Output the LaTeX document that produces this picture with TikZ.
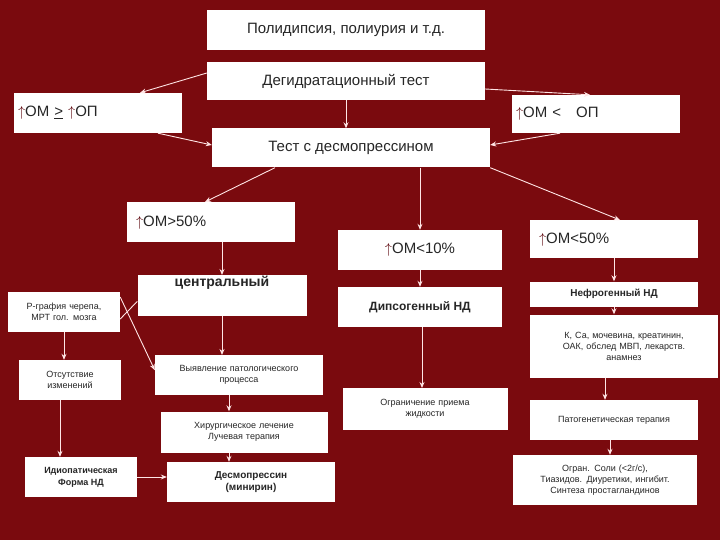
\documentclass[tikz,border=0pt]{standalone}
\usepackage{fontspec}
\setmainfont{Liberation Sans}
\usetikzlibrary{arrows.meta}
\definecolor{bgred}{HTML}{7A0A0E}
\definecolor{arr}{HTML}{5A0008}
\newcommand{\upar}{{\color{arr}$\uparrow$}}
\begin{document}
\begin{tikzpicture}[x=1pt,y=-1pt,
  box/.style={fill=white,draw=none,inner sep=1pt,align=center,text=black!85},
  big/.style={box,font=\fontsize{15}{18}\selectfont},
  sm/.style={box,font=\fontsize{9}{11}\selectfont},
  bsm/.style={box,font=\bfseries\fontsize{10}{12}\selectfont},
  con/.style={draw=white!90!red,line width=0.9pt,-{Stealth[length=6pt,width=5pt]}},
  lin/.style={draw=white!90!red,line width=0.9pt}]
\fill[bgred] (0,0) rectangle (720,540);
\useasboundingbox (0,0) rectangle (720,540);
\newcommand{\bx}[5]{\path[#1] (#2) rectangle (#3); \node[#1,fill=none,text width=0] (#4) at ($ (#2)!0.5!(#3) $) {};}
\node[big,minimum width=278,minimum height=40] (top) at (346,30) {Полидипсия, полиурия и т.д.};
\node[big,minimum width=278,minimum height=38] (deh) at (346,81) {Дегидратационный тест};
\node[big,minimum width=168,minimum height=40,text width=160,align=left] (omge) at (98,113) {\upar ОМ \underline{>} \upar ОП};
\node[big,minimum width=168,minimum height=38,text width=160,align=left] (omlt) at (596,114) {\upar ОМ <~~ ОП};
\node[big,minimum width=278,minimum height=39] (dt) at (351,148) {Тест с десмопрессином};
\node[big,minimum width=168,minimum height=40,text width=150,align=left,anchor=north] (o50) at (211,202) {\upar ОМ>50\%\\[8pt]};
\node[big,minimum width=164,minimum height=40,align=left] (o10) at (420,250) {\upar ОМ<10\%};
\node[big,minimum width=168,minimum height=38,text width=150,align=left,anchor=north] (o5) at (614,220) {\upar ОМ<50\%\\[6pt]};
\node[box,font=\bfseries\fontsize{14}{16}\selectfont,minimum width=169,minimum height=40,anchor=north] (cen) at (222,275) {центральный\\[12pt]};
\node[sm,minimum width=112,minimum height=40,text width=108] (rg) at (64,312) {Р-графия черепа,\\ МРТ гол. мозга};
\node[box,font=\bfseries\fontsize{12}{14}\selectfont,minimum width=164,minimum height=40] (dip) at (420,307) {Дипсогенный НД};
\node[bsm,minimum width=168,minimum height=25] (nef) at (614,294) {Нефрогенный НД};
\node[sm,minimum width=188,minimum height=63,text width=184] (kca) at (624,346) {К, Са, мочевина, креатинин,\\ ОАК, обслед МВП, лекарств.\\ анамнез};
\node[sm,minimum width=102,minimum height=40,text width=98] (ots) at (70,380) {Отсутствие\\ изменений};
\node[sm,minimum width=168,minimum height=40,text width=164,anchor=north] (vy) at (239,355) {Выявление патологического\\ процесса\\[6pt]};
\node[sm,minimum width=165,minimum height=42,text width=160,anchor=north] (og) at (425,388) {Ограничение приема\\ жидкости\\[10pt]};
\node[sm,minimum width=167,minimum height=41,text width=163] (hir) at (244,432) {Хирургическое лечение\\ Лучевая терапия};
\node[sm,minimum width=168,minimum height=40] (pat) at (614,420) {Патогенетическая терапия};
\node[bsm,font=\bfseries\fontsize{9}{12}\selectfont,minimum width=112,minimum height=40] (id) at (81,477) {Идиопатическая\\ Форма НД};
\node[bsm,minimum width=168,minimum height=40] (des) at (251,482) {Десмопрессин\\ (минирин)};
\node[sm,minimum width=184,minimum height=50,text width=180] (sol) at (605,480) {Огран. Соли (<2г/с),\\ Тиазидов. Диуретики, ингибит.\\ Синтеза простагландинов};
% connectors
\draw[con] (deh.west) ++(0,-8) coordinate (a1) -- ([xshift=42pt]omge.north) ;
\draw[con] ([yshift=-8pt]deh.east) -- ([xshift=-6pt]omlt.north);
\draw[con] (deh.south) -- (deh.south|-dt.north);
\draw[con] ([xshift=60pt]omge.south) -- ([yshift=3pt]dt.west);
\draw[con] ([xshift=-36pt]omlt.south) -- ([yshift=3pt]dt.east);
\draw[con] ([xshift=-76pt]dt.south) -- ([xshift=-6pt]o50.north);
\draw[con] (o10.north|-dt.south) -- (o10.north);
\draw[con] (dt.south east) -- ([xshift=6pt]o5.north);
\draw[con] (cen.north|-o50.south) -- (cen.north);
\draw[con] (o10.south) -- (dip.north);
\draw[con] (o5.south) -- (nef.north);
\draw[lin] ([yshift=-6pt]cen.west) -- ([yshift=-7pt]rg.east);
\draw[con] (rg.south) -- (rg.south|-ots.north);
\draw[con] ([yshift=15pt]rg.east) -- ([yshift=5pt]vy.west);
\draw[con] (cen.south) -- (cen.south|-vy.north);
\draw[con] ([xshift=-10pt]vy.south) -- ([xshift=-10pt]vy.south|-hir.north);
\draw[con] ([xshift=-15pt]hir.south) -- ([xshift=-15pt]hir.south|-des.north);
\draw[con] ([xshift=-10pt]ots.south) -- ([xshift=-10pt]ots.south|-id.north);
\draw[con] (id.east) -- (id.east-|des.west);
\draw[con] ([xshift=2pt]dip.south) -- ([xshift=2pt]dip.south|-og.north);
\draw[con] (nef.south) -- (nef.south|-kca.north);
\draw[con] ([xshift=-19pt]kca.south) -- ([xshift=-19pt]kca.south|-pat.north);
\draw[con] ([xshift=-4pt]pat.south) -- ([xshift=-4pt]pat.south|-sol.north);
\end{tikzpicture}
\end{document}
